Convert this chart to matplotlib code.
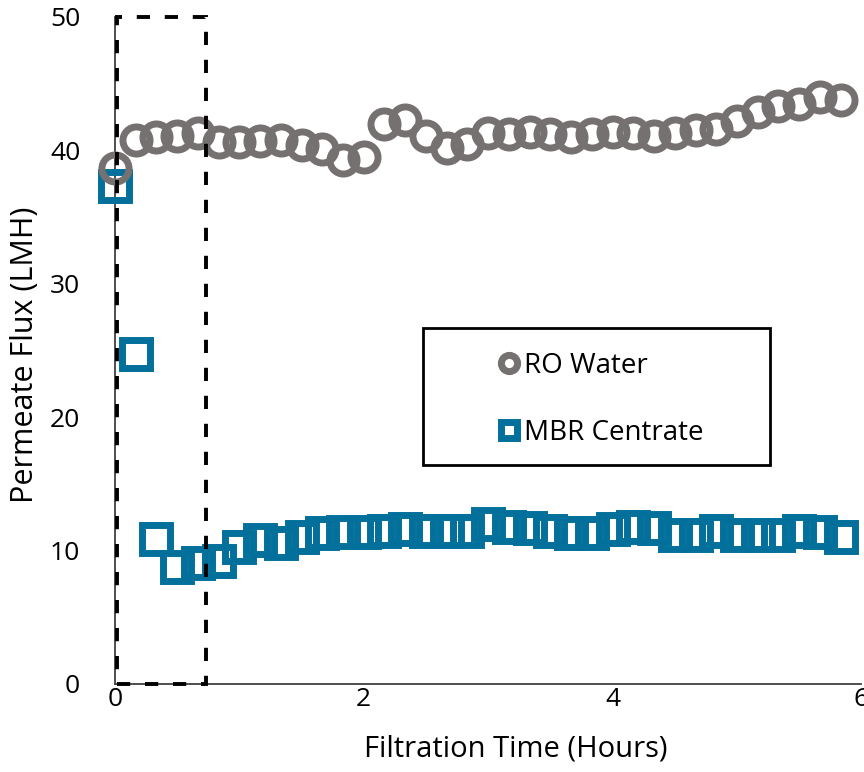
import numpy as np
import matplotlib
matplotlib.use('Agg')
import matplotlib.pyplot as plt
from matplotlib.patches import Rectangle

plt.rcParams['font.family'] = ['Open Sans', 'DejaVu Sans']

###############################################################################
## data

# samples every 10 minutes
time_hours = np.arange(36) / 6.0

ro_water = [38.7, 40.8, 41.0, 41.1, 41.3, 40.6, 40.6, 40.7, 40.8, 40.4,
            40.1, 39.3, 39.5, 42.0, 42.3, 41.1, 40.2, 40.5, 41.3, 41.2,
            41.4, 41.2, 41.0, 41.2, 41.4, 41.3, 41.1, 41.3, 41.5, 41.6,
            42.2, 42.9, 43.3, 43.5, 44.0, 43.8]

mbr_centrate = [37.3, 24.7, 10.9, 8.8, 9.1, 9.2, 10.3, 10.8, 10.6, 11.0,
                11.3, 11.4, 11.4, 11.5, 11.6, 11.5, 11.5, 11.5, 12.0, 11.8,
                11.7, 11.5, 11.3, 11.3, 11.6, 11.8, 11.7, 11.2, 11.2, 11.5,
                11.2, 11.2, 11.2, 11.5, 11.4, 11.0]

series_labels = ['RO Water', 'MBR Centrate']
x_ticks = [0, 2, 4, 6]
y_ticks = [0, 10, 20, 30, 40, 50]

# initial fouling window (hours)
window_start = 0.015
window_end = 0.73

gray = '#767171'
blue = '#02709a'

###############################################################################
## plot

fig = plt.figure(figsize=(8.64, 7.72), dpi=100)
ax = fig.add_axes([0.133, 0.114, 0.864, 0.864])

ax.plot(time_hours, mbr_centrate, ls='none', marker='s', ms=19.5,
        mew=5.0, mfc='none', mec=blue, label=series_labels[1], zorder=3,
        clip_on=False)
ax.plot(time_hours, ro_water, ls='none', marker='o', ms=19.5,
        mew=5.0, mfc='none', mec=gray, label=series_labels[0], zorder=4,
        clip_on=False)

ax.add_patch(Rectangle((window_start, 0), window_end - window_start, 50,
                       fill=False, ec='black', lw=2.8, ls=(0, (3.4, 3.8)),
                       clip_on=False, zorder=5))

ax.set_xlim(0, 6)
ax.set_ylim(0, 50)
ax.set_xticks(x_ticks)
ax.set_yticks(y_ticks)
ax.tick_params(length=0, labelsize=19)
ax.tick_params(axis='y', pad=25)
ax.tick_params(axis='x', pad=2)

for side in ['top', 'right']:
    ax.spines[side].set_visible(False)
for side in ['left', 'bottom']:
    ax.spines[side].set_color('#404040')
    ax.spines[side].set_linewidth(1.3)

ax.set_xlabel('Filtration Time (Hours)', fontsize=21)
ax.xaxis.set_label_coords(0.5375, -0.076)
ax.set_ylabel('Permeate Flux (LMH)', fontsize=22)
ax.yaxis.set_label_coords(-0.100, 0.493)

# legend with its own frame
handles, labels = ax.get_legend_handles_labels()
ax.legend(handles[::-1], labels[::-1], loc='center',
          bbox_to_anchor=(0.652, 0.427), frameon=False, fontsize=20,
          markerscale=0.6, handlelength=0.65, handletextpad=0.22,
          labelspacing=1.4, borderpad=0)
ax.add_patch(Rectangle((0.413, 0.328), 0.465, 0.206, transform=ax.transAxes,
                       fill=False, ec='black', lw=2.0, zorder=6))

fig.savefig('out.png', dpi=100)
